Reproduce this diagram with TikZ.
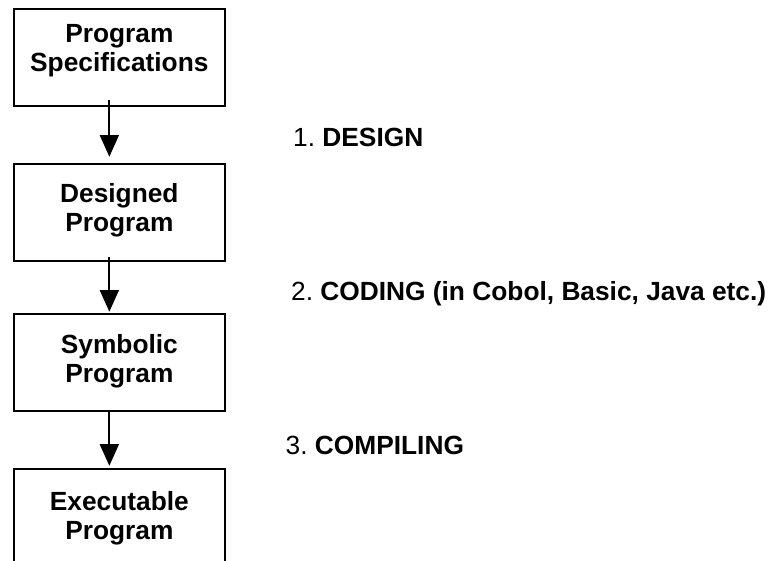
\documentclass[tikz,border=0pt]{standalone}
\usepackage{fontspec}
\setmainfont{Liberation Sans}
\usetikzlibrary{arrows.meta}
\frenchspacing
\begin{document}
\begin{tikzpicture}[x=1pt,y=-1pt,
  stage/.style={draw, line width=2pt, minimum width=211.3pt, minimum height=96.7pt,
    inner sep=0pt, anchor=north west},
  stagetext/.style={anchor=base, align=center, inner sep=0pt,
    font=\fontsize{26.3}{29}\selectfont\bfseries},
  flow/.style={line width=2pt, -{Triangle[width=19pt,length=21.7pt]}},
  steplabel/.style={anchor=base west, inner sep=0pt, font=\fontsize{26.3}{30}\selectfont}]
\useasboundingbox (0,0) rectangle (774,560);
\clip (0,0) rectangle (774,560);

% the four stages of the program
\node[stage] (b1) at (12.7,8.3) {};
\node[stage] (b2) at (12.7,163.3) {};
\node[stage] (b3) at (12.7,313.3) {};
\node[stage, minimum height=120pt] (b4) at (12.7,468.3) {};

% stage names (anchored on the baseline of the second line)
\node[stagetext] (t1) at ([yshift=-63.5pt]b1.north) {Program\\Specifications};
\node[stagetext] (t2) at ([yshift=-67.8pt]b2.north) {Designed\\Program};
\node[stagetext] (t3) at ([yshift=-69.5pt]b3.north) {Symbolic\\Program};
\node[stagetext] (t4) at ([yshift=-71.2pt]b4.north) {Executable\\Program};

% transitions between stages
\draw[flow] ([xshift=-10pt,yshift=7pt]b1.south) -- ([xshift=-10pt,yshift=6.6pt]b2.north);
\draw[flow] ([xshift=-10pt,yshift=5pt]b2.south) -- ([xshift=-10pt,yshift=1.6pt]b3.north);
\draw[flow] ([xshift=-10pt]b3.south) -- ([xshift=-10pt,yshift=2.5pt]b4.north);

% activity performed at each transition
\node[steplabel] (s1) at (293,146) {1. \textbf{DESIGN}};
\node[steplabel] (s2) at (291,300.7) {2. \textbf{CODING (in Cobol, Basic, Java etc.)}};
\node[steplabel] (s3) at (285.5,454) {3. \textbf{COMPILING}};
\end{tikzpicture}
\end{document}
